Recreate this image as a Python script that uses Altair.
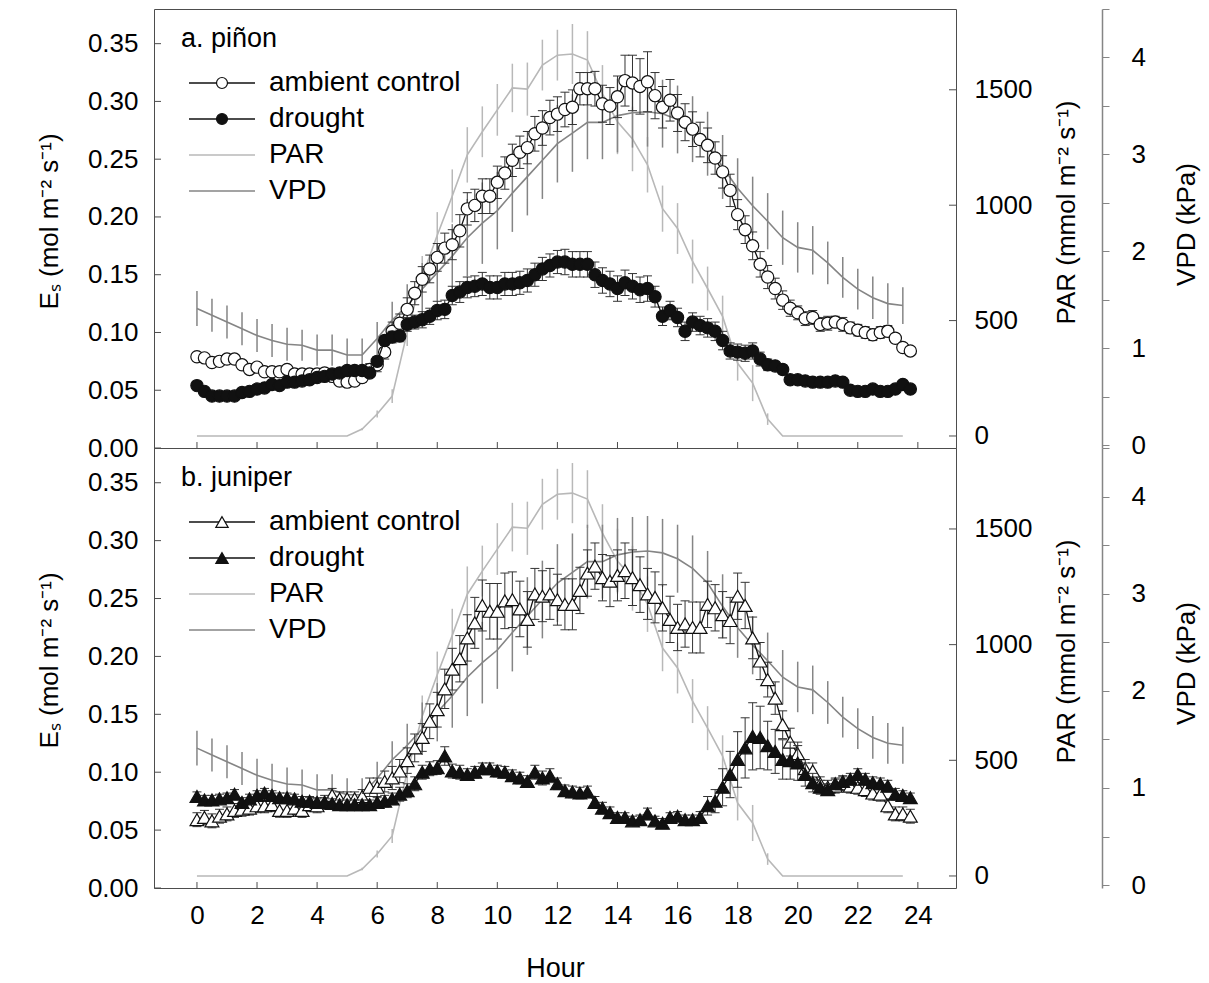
import altair as alt
import pandas as pd

FONT = "Liberation Sans"

# ---------------- data ----------------
QUARTER_HOURS = [i * 0.25 for i in range(96)]
HALF_HOURS = [i * 0.5 for i in range(48)]

PINON_CONTROL = [
    0.079, 0.078, 0.074, 0.075, 0.077, 0.077, 0.072, 0.068, 0.070, 0.066, 0.066, 0.066,
    0.068, 0.064, 0.064, 0.064, 0.064, 0.065, 0.062, 0.058, 0.057, 0.058, 0.061, 0.068,
    0.072, 0.083, 0.101, 0.108, 0.120, 0.134, 0.146, 0.155, 0.165, 0.173, 0.176, 0.188,
    0.207, 0.210, 0.218, 0.218, 0.230, 0.238, 0.249, 0.256, 0.260, 0.272, 0.277, 0.286,
    0.289, 0.293, 0.295, 0.311, 0.311, 0.311, 0.298, 0.296, 0.304, 0.318, 0.316, 0.313,
    0.317, 0.305, 0.295, 0.301, 0.290, 0.282, 0.276, 0.267, 0.262, 0.251, 0.239, 0.223,
    0.202, 0.189, 0.175, 0.159, 0.148, 0.138, 0.128, 0.121, 0.117, 0.112, 0.113, 0.107,
    0.108, 0.109, 0.107, 0.104, 0.102, 0.100, 0.098, 0.100, 0.101, 0.095, 0.087, 0.084]
PINON_CONTROL_SE = [
    0.003, 0.003, 0.003, 0.003, 0.003, 0.003, 0.003, 0.003, 0.003, 0.003, 0.003, 0.003,
    0.003, 0.003, 0.003, 0.003, 0.004, 0.004, 0.004, 0.004, 0.004, 0.004, 0.004, 0.005,
    0.006, 0.006, 0.008, 0.008, 0.010, 0.010, 0.011, 0.012, 0.012, 0.013, 0.013, 0.014,
    0.014, 0.014, 0.015, 0.015, 0.014, 0.014, 0.014, 0.014, 0.014, 0.015, 0.015, 0.015,
    0.015, 0.015, 0.015, 0.014, 0.014, 0.015, 0.016, 0.016, 0.018, 0.022, 0.024, 0.024,
    0.026, 0.020, 0.018, 0.018, 0.016, 0.016, 0.015, 0.015, 0.015, 0.014, 0.014, 0.014,
    0.013, 0.012, 0.012, 0.011, 0.010, 0.009, 0.008, 0.007, 0.006, 0.006, 0.006, 0.006,
    0.006, 0.005, 0.006, 0.005, 0.005, 0.005, 0.005, 0.005, 0.005, 0.004, 0.003, 0.003]
PINON_DROUGHT = [
    0.054, 0.049, 0.045, 0.045, 0.045, 0.045, 0.048, 0.049, 0.051, 0.052, 0.055, 0.054,
    0.057, 0.057, 0.058, 0.059, 0.061, 0.062, 0.064, 0.065, 0.067, 0.067, 0.067, 0.065,
    0.075, 0.093, 0.096, 0.097, 0.107, 0.109, 0.111, 0.114, 0.119, 0.120, 0.132, 0.135,
    0.139, 0.140, 0.142, 0.139, 0.139, 0.142, 0.142, 0.143, 0.145, 0.150, 0.155, 0.158,
    0.161, 0.161, 0.159, 0.159, 0.159, 0.150, 0.145, 0.142, 0.138, 0.143, 0.140, 0.137,
    0.138, 0.131, 0.114, 0.119, 0.113, 0.101, 0.109, 0.106, 0.104, 0.101, 0.093, 0.084,
    0.083, 0.082, 0.084, 0.077, 0.072, 0.071, 0.068, 0.059, 0.059, 0.058, 0.057, 0.057,
    0.057, 0.058, 0.057, 0.050, 0.049, 0.049, 0.051, 0.049, 0.049, 0.051, 0.055, 0.051]
PINON_DROUGHT_SE = [
    0.002, 0.002, 0.002, 0.002, 0.002, 0.002, 0.002, 0.002, 0.002, 0.002, 0.002, 0.002,
    0.003, 0.003, 0.003, 0.003, 0.003, 0.003, 0.003, 0.003, 0.003, 0.003, 0.003, 0.003,
    0.004, 0.004, 0.005, 0.005, 0.006, 0.006, 0.007, 0.007, 0.008, 0.008, 0.008, 0.009,
    0.009, 0.009, 0.010, 0.010, 0.010, 0.010, 0.010, 0.010, 0.010, 0.010, 0.010, 0.010,
    0.010, 0.011, 0.011, 0.011, 0.011, 0.011, 0.011, 0.011, 0.011, 0.011, 0.011, 0.011,
    0.011, 0.009, 0.008, 0.008, 0.008, 0.008, 0.008, 0.008, 0.008, 0.008, 0.008, 0.007,
    0.007, 0.007, 0.007, 0.006, 0.005, 0.004, 0.004, 0.003, 0.003, 0.003, 0.003, 0.003,
    0.003, 0.003, 0.003, 0.003, 0.003, 0.003, 0.003, 0.003, 0.003, 0.003, 0.003, 0.003]

JUNIPER_CONTROL = [
    0.059, 0.061, 0.058, 0.062, 0.064, 0.067, 0.068, 0.069, 0.071, 0.071, 0.072, 0.067,
    0.067, 0.069, 0.067, 0.072, 0.071, 0.074, 0.080, 0.077, 0.077, 0.077, 0.079, 0.087,
    0.087, 0.092, 0.095, 0.101, 0.110, 0.121, 0.130, 0.144, 0.154, 0.172, 0.189, 0.198,
    0.216, 0.229, 0.244, 0.239, 0.239, 0.248, 0.249, 0.241, 0.232, 0.254, 0.252, 0.254,
    0.249, 0.245, 0.245, 0.257, 0.272, 0.278, 0.268, 0.265, 0.270, 0.274, 0.268, 0.262,
    0.254, 0.251, 0.242, 0.232, 0.225, 0.228, 0.225, 0.225, 0.245, 0.242, 0.236, 0.231,
    0.252, 0.244, 0.216, 0.196, 0.180, 0.164, 0.141, 0.126, 0.116, 0.103, 0.101, 0.090,
    0.087, 0.088, 0.090, 0.088, 0.087, 0.085, 0.082, 0.081, 0.071, 0.064, 0.064, 0.062]
JUNIPER_CONTROL_SE = [
    0.006, 0.006, 0.006, 0.006, 0.006, 0.006, 0.006, 0.006, 0.006, 0.006, 0.006, 0.006,
    0.006, 0.006, 0.006, 0.006, 0.006, 0.006, 0.006, 0.006, 0.006, 0.006, 0.006, 0.008,
    0.008, 0.009, 0.010, 0.010, 0.011, 0.012, 0.012, 0.015, 0.015, 0.017, 0.018, 0.020,
    0.020, 0.022, 0.022, 0.024, 0.024, 0.024, 0.024, 0.024, 0.024, 0.022, 0.022, 0.022,
    0.022, 0.022, 0.022, 0.020, 0.020, 0.020, 0.020, 0.022, 0.022, 0.024, 0.024, 0.024,
    0.022, 0.022, 0.020, 0.020, 0.020, 0.020, 0.022, 0.022, 0.020, 0.020, 0.020, 0.020,
    0.020, 0.020, 0.018, 0.016, 0.015, 0.014, 0.012, 0.012, 0.010, 0.008, 0.007, 0.006,
    0.006, 0.006, 0.006, 0.006, 0.006, 0.006, 0.006, 0.006, 0.006, 0.006, 0.006, 0.006]
JUNIPER_DROUGHT = [
    0.079, 0.076, 0.076, 0.077, 0.078, 0.081, 0.074, 0.077, 0.080, 0.082, 0.080, 0.078,
    0.078, 0.077, 0.075, 0.075, 0.074, 0.074, 0.073, 0.072, 0.072, 0.072, 0.072, 0.072,
    0.074, 0.075, 0.077, 0.081, 0.084, 0.090, 0.100, 0.103, 0.104, 0.114, 0.101, 0.100,
    0.098, 0.100, 0.103, 0.103, 0.101, 0.100, 0.097, 0.095, 0.092, 0.100, 0.095, 0.097,
    0.090, 0.084, 0.083, 0.082, 0.083, 0.074, 0.069, 0.065, 0.061, 0.061, 0.058, 0.059,
    0.064, 0.058, 0.056, 0.061, 0.062, 0.059, 0.059, 0.061, 0.071, 0.075, 0.087, 0.098,
    0.111, 0.121, 0.131, 0.130, 0.123, 0.118, 0.111, 0.110, 0.108, 0.098, 0.091, 0.087,
    0.085, 0.090, 0.092, 0.094, 0.098, 0.094, 0.091, 0.090, 0.088, 0.081, 0.080, 0.078]
JUNIPER_DROUGHT_SE = [
    0.004, 0.004, 0.004, 0.004, 0.004, 0.004, 0.004, 0.004, 0.004, 0.004, 0.004, 0.004,
    0.004, 0.004, 0.004, 0.004, 0.004, 0.004, 0.004, 0.004, 0.004, 0.004, 0.004, 0.004,
    0.004, 0.005, 0.005, 0.006, 0.006, 0.006, 0.006, 0.006, 0.006, 0.008, 0.006, 0.006,
    0.005, 0.005, 0.005, 0.005, 0.005, 0.005, 0.005, 0.005, 0.005, 0.006, 0.006, 0.006,
    0.005, 0.005, 0.005, 0.005, 0.005, 0.005, 0.005, 0.005, 0.004, 0.004, 0.004, 0.004,
    0.005, 0.004, 0.004, 0.004, 0.004, 0.004, 0.004, 0.005, 0.008, 0.010, 0.016, 0.020,
    0.024, 0.026, 0.029, 0.027, 0.021, 0.019, 0.017, 0.016, 0.015, 0.010, 0.008, 0.006,
    0.005, 0.005, 0.005, 0.005, 0.005, 0.005, 0.005, 0.005, 0.005, 0.005, 0.004, 0.004]

PAR = [
    0, 0, 0, 0, 0, 0, 0, 0, 0, 0, 0, 30,
    95, 173, 450, 690, 870, 1040, 1218, 1318, 1413, 1508, 1503, 1607,
    1650, 1655, 1629, 1482, 1361, 1287, 1175, 985, 899, 756, 639, 518,
    315, 229, 73, 0, 0, 0, 0, 0, 0, 0, 0, 0]
PAR_SE = [
    0, 0, 0, 0, 0, 0, 0, 0, 0, 0, 0, 5,
    15, 30, 60, 90, 100, 115, 120, 110, 112, 105, 115, 110,
    110, 130, 125, 125, 140, 140, 120, 100, 110, 95, 95, 90,
    75, 78, 25, 0, 0, 0, 0, 0, 0, 0, 0, 0]
VPD = [
    1.41, 1.34, 1.27, 1.20, 1.13, 1.08, 1.04, 1.03, 0.98, 0.98, 0.93, 0.93,
    1.10, 1.29, 1.44, 1.61, 1.78, 1.95, 2.14, 2.29, 2.42, 2.60, 2.77, 2.94,
    3.11, 3.22, 3.33, 3.33, 3.40, 3.43, 3.44, 3.42, 3.36, 3.26, 3.11, 2.87,
    2.65, 2.47, 2.31, 2.14, 2.04, 2.01, 1.88, 1.73, 1.61, 1.52, 1.46, 1.44]
VPD_SE = [
    0.18, 0.17, 0.17, 0.17, 0.17, 0.17, 0.17, 0.16, 0.16, 0.16, 0.17, 0.17,
    0.17, 0.19, 0.22, 0.27, 0.30, 0.33, 0.40, 0.42, 0.40, 0.40, 0.40, 0.40,
    0.40, 0.40, 0.38, 0.38, 0.38, 0.36, 0.36, 0.35, 0.35, 0.34, 0.33, 0.33,
    0.31, 0.30, 0.29, 0.28, 0.26, 0.25, 0.22, 0.21, 0.21, 0.22, 0.21, 0.19]

HOUR_TICKS = [0, 2, 4, 6, 8, 10, 12, 14, 16, 18, 20, 22, 24]
ES_TICKS = [0.0, 0.05, 0.10, 0.15, 0.20, 0.25, 0.30, 0.35]
PAR_TICKS = [0, 500, 1000, 1500]
VPD_TICKS = [0, 0.5, 1, 1.5, 2, 2.5, 3, 3.5, 4, 4.5]

SERIES_LABELS = ["ambient control", "drought", "PAR", "VPD"]
PANEL_TITLES = ["a. piñon", "b. juniper"]

# ---------------- layout / style ----------------
W = 802
H_TOP, H_BOT = 439, 440
X_DOMAIN = [-1.43, 25.27]
ES_DOMAIN = [0, 0.38]
PAR_DOMAIN = [-52, 1850]
VPD_DOMAIN = [-0.03, 4.5]

FRAME = "#4d4d4d"
EB = "#333333"
INK = "#111111"
PAR_COL = "#b8b8b8"
VPD_COL = "#858585"
TICK_FS = 26
TITLE_FS = 26
LEGEND_FS = 28


def es_frame(vals, se):
    lo = [v - s for v, s in zip(vals, se)]
    hi = [v + s for v, s in zip(vals, se)]
    df = pd.DataFrame({"hour": QUARTER_HOURS, "es": vals, "lo": lo, "hi": hi})
    caps = pd.DataFrame({"hour": QUARTER_HOURS + QUARTER_HOURS, "cap": lo + hi})
    return df, caps


def half_frame(vals, se):
    return pd.DataFrame({"hour": HALF_HOURS, "v": vals,
                         "lo": [v - s for v, s in zip(vals, se)],
                         "hi": [v + s for v, s in zip(vals, se)]})


def panel(ctrl, ctrl_se, dr, dr_se, shape, size, title, height, bottom):
    xs = alt.Scale(domain=X_DOMAIN, nice=False, zero=False)
    if bottom:
        xa = alt.Axis(values=HOUR_TICKS, tickSize=0, domain=False, grid=False,
                      labelFontSize=TICK_FS, labelPadding=14, labelFlush=False,
                      title="Hour", titleFontSize=TITLE_FS + 1, titleFontWeight="normal",
                      titlePadding=27)
    else:
        xa = None

    def X(f):
        return alt.X(f + ":Q", scale=xs, axis=xa)

    # ---- Es (left axis) ----
    es_s = alt.Scale(domain=ES_DOMAIN, nice=False, zero=False)
    es_ax = alt.Axis(orient="left", values=ES_TICKS, format=".2f", tickSize=0, domain=False,
                     grid=False, labelFontSize=TICK_FS, labelPadding=16, labelFlush=False,
                     title="Eₛ (mol m⁻² s⁻¹)", titleFontSize=TITLE_FS, titleFontWeight="normal",
                     titleAngle=270, titleX=-105, titleY=212, titleAlign="center",
                     titleBaseline="middle")

    def EY(f):
        return alt.Y(f + ":Q", scale=es_s, axis=es_ax)

    dfc, capc = es_frame(ctrl, ctrl_se)
    dfd, capd = es_frame(dr, dr_se)

    es_ticks = alt.Chart(pd.DataFrame({"t": ES_TICKS})).mark_rule(color=FRAME).encode(
        y=EY("t"), x=alt.value(0), x2=alt.value(7))
    x_ticks = alt.Chart(pd.DataFrame({"h": HOUR_TICKS})).mark_rule(color=FRAME).encode(
        x=X("h"), y=alt.value(height - 6), y2=alt.value(height))

    def es_series(df, caps, fill):
        bar = alt.Chart(df).mark_rule(color=EB, strokeWidth=1).encode(
            x=X("hour"), y=EY("lo"), y2="hi")
        cap = alt.Chart(caps).mark_tick(orient="horizontal", size=9, thickness=1,
                                        color=EB, opacity=1).encode(x=X("hour"), y=EY("cap"))
        line = alt.Chart(df).mark_line(color=INK, strokeWidth=1.3).encode(
            x=X("hour"), y=EY("es"))
        pts = alt.Chart(df).mark_point(shape=shape, filled=True, fill=fill, stroke=INK,
                                       strokeWidth=1.2, size=size, opacity=1).encode(
            x=X("hour"), y=EY("es"))
        return [bar, cap, line, pts]

    es_group = alt.layer(es_ticks, x_ticks, *es_series(dfc, capc, "white"),
                         *es_series(dfd, capd, INK))

    # ---- PAR (right axis) ----
    par_s = alt.Scale(domain=PAR_DOMAIN, nice=False, zero=False)
    par_ax = alt.Axis(orient="right", values=PAR_TICKS, format="d", tickSize=0, domain=False,
                      grid=False, labelFontSize=TICK_FS, labelPadding=18, labelFlush=False,
                      title="PAR (mmol m⁻² s⁻¹)", titleFontSize=TITLE_FS,
                      titleFontWeight="normal", titleAngle=270, titleX=110, titleY=203,
                      titleAlign="center", titleBaseline="middle")

    def PY(f):
        return alt.Y(f + ":Q", scale=par_s, axis=par_ax)

    dpar = half_frame(PAR, PAR_SE)
    par_group = alt.layer(
        alt.Chart(pd.DataFrame({"t": PAR_TICKS})).mark_rule(color=FRAME).encode(
            y=PY("t"), x=alt.value(W - 7), x2=alt.value(W)),
        alt.Chart(dpar).mark_rule(color=PAR_COL, strokeWidth=1.5).encode(
            x=X("hour"), y=PY("lo"), y2="hi"),
        alt.Chart(dpar).mark_line(color=PAR_COL, strokeWidth=1.6).encode(
            x=X("hour"), y=PY("v")),
    )

    # ---- VPD (offset right axis) ----
    vpd_s = alt.Scale(domain=VPD_DOMAIN, nice=False, zero=False)
    vpd_ax = alt.Axis(orient="right", offset=146, values=VPD_TICKS,
                      labelExpr="datum.value % 1 == 0 ? format(datum.value, 'd') : ''",
                      tickSize=7, tickColor=VPD_COL, domain=True, domainColor=VPD_COL,
                      domainWidth=1.5, grid=False, labelFontSize=TICK_FS, labelPadding=22,
                      labelFlush=False, title="VPD (kPa)", titleFontSize=TITLE_FS,
                      titleFontWeight="normal", titleAngle=270, titleX=84, titleY=215,
                      titleAlign="center", titleBaseline="middle")

    def VY(f):
        return alt.Y(f + ":Q", scale=vpd_s, axis=vpd_ax)

    dvpd = half_frame(VPD, VPD_SE)
    vpd_group = alt.layer(
        alt.Chart(dvpd).mark_rule(color=VPD_COL, strokeWidth=1.5).encode(
            x=X("hour"), y=VY("lo"), y2="hi"),
        alt.Chart(dvpd).mark_line(color=VPD_COL, strokeWidth=1.6).encode(
            x=X("hour"), y=VY("v")),
    )

    # ---- in-panel legend (pixel positions) ----
    rows = [74, 110, 146, 182]
    lx0, lx1, lmark, ltext = 35, 101, 68, 115
    leg = [
        alt.Chart().mark_text(align="left", baseline="alphabetic", fontSize=TITLE_FS + 1,
                              font=FONT, color="black").encode(
            x=alt.value(27), y=alt.value(38), text=alt.value(title))
    ]
    line_cols = [INK, INK, PAR_COL, VPD_COL]
    for i, lab in enumerate(SERIES_LABELS):
        leg.append(alt.Chart().mark_rule(color=line_cols[i], strokeWidth=1.6).encode(
            x=alt.value(lx0), x2=alt.value(lx1), y=alt.value(rows[i])))
        leg.append(alt.Chart().mark_text(align="left", baseline="middle",
                                         fontSize=LEGEND_FS, font=FONT, color="black").encode(
            x=alt.value(ltext), y=alt.value(rows[i]), text=alt.value(lab)))
    for i, fill in enumerate(["white", INK]):
        leg.append(alt.Chart().mark_point(shape=shape, filled=True, fill=fill, stroke=INK,
                                          strokeWidth=1.2, size=size * 0.8, opacity=1).encode(
            x=alt.value(lmark), y=alt.value(rows[i])))

    return alt.layer(par_group, vpd_group, es_group, *leg).resolve_scale(
        y="independent").properties(width=W, height=height)


top = panel(PINON_CONTROL, PINON_CONTROL_SE, PINON_DROUGHT, PINON_DROUGHT_SE,
            "circle", 150, PANEL_TITLES[0], H_TOP, False)
bot = panel(JUNIPER_CONTROL, JUNIPER_CONTROL_SE, JUNIPER_DROUGHT, JUNIPER_DROUGHT_SE,
            "triangle-up", 190, PANEL_TITLES[1], H_BOT, True)

chart = alt.vconcat(top, bot, spacing=0, bounds="flush").properties(
    padding={"left": 35, "top": 8, "right": 5, "bottom": 5}
).configure(font=FONT).configure_view(stroke=FRAME, strokeWidth=1).configure_axis(
    labelFont=FONT, titleFont=FONT, labelColor="black", titleColor="black")

chart.save("out.html", embed_options={"renderer": "svg", "actions": False})
